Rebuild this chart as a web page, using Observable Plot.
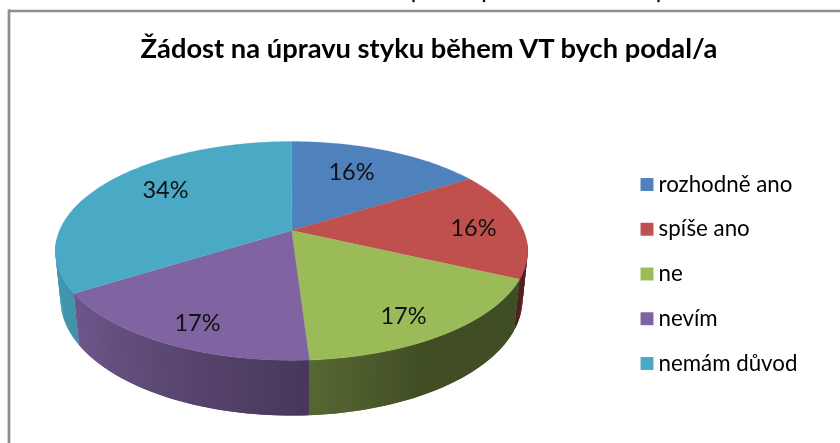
<!DOCTYPE html>
<html lang="cs">
<head>
<meta charset="utf-8">
<script src="https://cdn.jsdelivr.net/npm/d3@7"></script>
<script src="https://cdn.jsdelivr.net/npm/@observablehq/plot@0.6"></script>
<style>html,body{margin:0;padding:0;background:#fff}svg{display:block;filter:blur(0.35px)}</style>
</head>
<body>
<div id="chart"></div>
<script>
const chartTitle = "Žádost na úpravu styku během VT bych podal/a";
const categories = ["rozhodně ano", "spíše ano", "ne", "nevím", "nemám důvod"];
const shares = [16, 16, 17, 17, 34];
const sliceColors = ["#4f81bd", "#c0504d", "#9bbb59", "#8064a2", "#4aa9c4"];

// layout of the perspective pie, in page pixels
const W = 840, H = 443, CX = 291, CY = 230, RX = 232, RY = 105.6;
const K = 0.187, WALL_W = 0.022, WALL_H = 48.9 / RY;
const toX = p => (p - CX) / RX, toY = p => (CY - p) / RY;

// a circle point lifted through the projective camera; z = 0 top, z = 1 bottom rim
function rim(deg, z = 0) {
  const t = deg * Math.PI / 180, sx = Math.sin(t), cy = Math.cos(t);
  const w = 1 + K * cy + WALL_W * z;
  return {x: sx / w, y: (cy - WALL_H * z) / w};
}

const edges = d3.cumsum(shares).map(v => v * 3.6);
const starts = [0, ...edges.slice(0, -1)];

const topFaces = [];
categories.forEach((c, i) => {
  topFaces.push({category: c, x: 0, y: 0});
  for (let a = starts[i]; ; a += 1) {
    const deg = Math.min(a, edges[i]);
    topFaces.push({category: c, ...rim(deg)});
    if (deg >= edges[i]) break;
  }
});

const shade = d3.scaleLinear().domain([95, 150, 176, 237.6, 265]).range([0.42, 0.41, 0.56, 0.87, 0.92]);
const wallStrips = [];
let stripId = 0;
// Every strip overlaps the previously painted one so no seams show between them.
categories.forEach((c, i) => {
  const from = Math.max(starts[i], 95), to = Math.min(edges[i], 265);
  for (let a = to; a > from; a -= 1) {
    const lo = Math.max(a - 1, from), hi = Math.min(a + 1, to), k = shade(a - 0.5);
    const col = d3.rgb(sliceColors[i]);
    const color = d3.rgb(col.r * k, col.g * k, col.b * k).formatHex();
    [rim(lo), rim(hi), rim(hi, 1), rim(lo, 1)].forEach(p => wallStrips.push({id: stripId, color, ...p}));
    stripId++;
  }
});

const labelPlace = {
  "rozhodně ano": [351, 172], "spíše ano": [473, 228], "ne": [403, 316],
  "nevím": [197, 323], "nemám důvod": [165, 190]
};
const sliceLabels = categories.map((c, i) => ({
  text: shares[i] + "%", x: toX(labelPlace[c][0]), y: toY(labelPlace[c][1])
}));
const legendRows = categories.map((c, i) => ({category: c, y: toY(184 + i * 44.75)}));
const inkSpecks = [413, 483.5, 658];

const FONT = "Lato, Carlito, sans-serif";
const chart = Plot.plot({
  width: W, height: H, margin: 0,
  style: {fontFamily: FONT, background: "#fff", color: "#000"},
  x: {domain: [toX(0), toX(W)], range: [0, W], axis: null},
  y: {domain: [toY(0), toY(H)], range: [0, H], axis: null},
  color: {domain: categories, range: sliceColors},
  marks: [
    Plot.ruleY([toY(10.5)], {x1: toX(8.5), x2: toX(W), stroke: "#8e8e8e", strokeWidth: 2.7}),
    Plot.ruleX([toX(8.5)], {y1: toY(9.2), y2: toY(443), stroke: "#8e8e8e", strokeWidth: 2.7}),
    Plot.dot(inkSpecks, {x: d => toX(d), y: toY(0.5), r: 1.3, fill: "#111", stroke: "none"}),
    Plot.text([chartTitle], {x: toX(428.5), y: toY(49), text: d => d, fontSize: 27.3, fontWeight: 700, fill: "#000"}),
    Plot.line(wallStrips, {x: "x", y: "y", z: "id", fill: "color", stroke: "none", curve: "linear-closed"}),
    Plot.line(topFaces, {x: "x", y: "y", z: "category", fill: "category", stroke: "category", strokeWidth: 0.3, curve: "linear-closed"}),
    Plot.text(sliceLabels, {x: "x", y: "y", text: "text", fontSize: 23.5, fill: "#111"}),
    Plot.dot(legendRows, {x: toX(646.5), y: "y", symbol: "square", r: 7.3, fill: "category", stroke: "none"}),
    Plot.text(legendRows, {x: toX(658), y: "y", text: "category", textAnchor: "start", fontSize: 22.3, fill: "#000"})
  ]
});
document.getElementById("chart").append(chart);
</script>
</body>
</html>
